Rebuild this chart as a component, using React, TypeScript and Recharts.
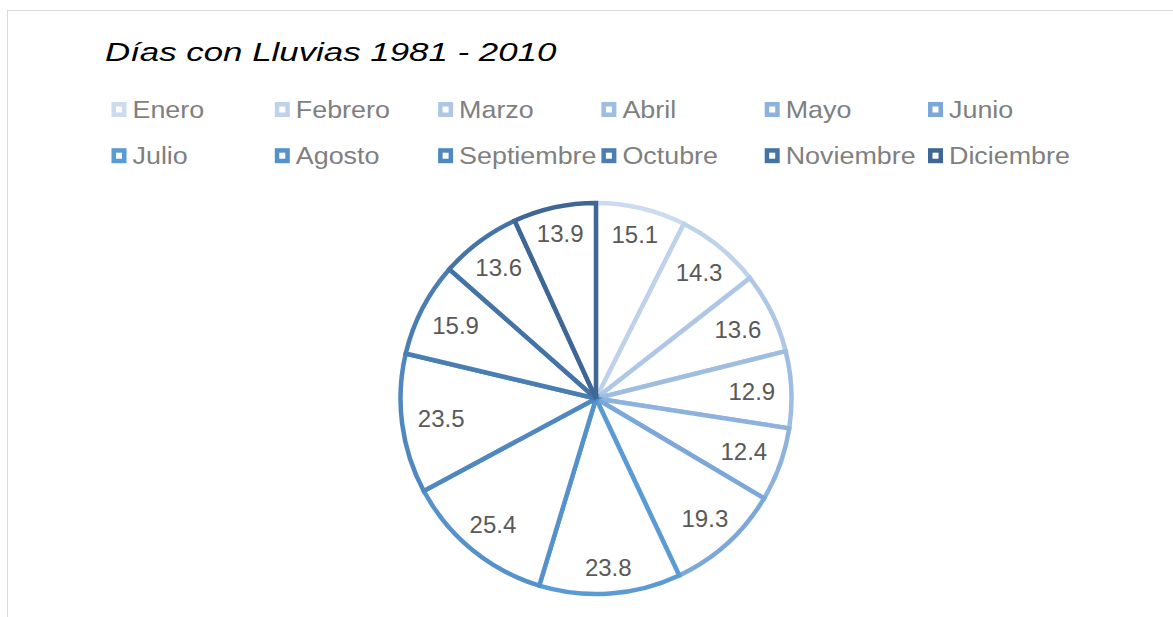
import React from 'react';
import { PieChart, Pie, Cell, Legend } from 'recharts';

const MONTHS = ['Enero', 'Febrero', 'Marzo', 'Abril', 'Mayo', 'Junio', 'Julio', 'Agosto', 'Septiembre', 'Octubre', 'Noviembre', 'Diciembre'];
const RAIN_DAYS = [15.1, 14.3, 13.6, 12.9, 12.4, 19.3, 23.8, 25.4, 23.5, 15.9, 13.6, 13.9];
const COLORS = ['#ccdbef', '#bed2ea', '#aec7e6', '#9ebde1', '#8db2dd', '#7ba7d9', '#5b9bd5', '#5592cb', '#4f88bf', '#4a7eb3', '#4473a5', '#3e6796'];
const TITLE = 'Días con Lluvias 1981 - 2010';

const data = MONTHS.map((m, i) => ({ name: m, value: RAIN_DAYS[i] }));

const FONT = '"Liberation Sans", Arial, sans-serif';
const RAD = Math.PI / 180;

const renderLabel = (props: any) => {
  const { cx, cy, midAngle, outerRadius, value } = props;
  const dx = Math.cos(-midAngle * RAD);
  const dy = Math.sin(-midAngle * RAD);
  const w = 45, h = 18;
  const ext = Math.sqrt((dx * w / 2) ** 2 + (dy * h / 2) ** 2);
  const r = outerRadius - 17 - ext;
  return (
    <text x={cx + r * dx} y={cy + r * dy} textAnchor="middle" dominantBaseline="central"
      fill="#595959" fontSize={24} fontFamily={FONT}>
      {value.toFixed(1)}
    </text>
  );
};

const renderLegend = () => (
  <svg width={1000} height={70} style={{ display: 'block', overflow: 'visible' }}>
    {MONTHS.map((m, i) => {
      const col = i % 6;
      const row = Math.floor(i / 6);
      const x = col * 163.3;
      const y = row * 46.2;
      return (
        <g key={m}>
          <rect x={x + 1.75} y={y + 1.25} width={10.5} height={10.5} fill="#fff" stroke={COLORS[i]} strokeWidth={4.5} />
          <text transform={`translate(${x + 20.5},${y + 15}) scale(1.12,1)`} fill="#7f7f7f" fontSize={24} fontFamily={FONT}>{m}</text>
        </g>
      );
    })}
  </svg>
);

export default function App() {
  return (
    <div style={{ position: 'fixed', left: 7, top: 10, width: 1166, height: 607, boxSizing: 'border-box', borderTop: '1px solid #d9d9d9', borderLeft: '1px solid #d9d9d9', background: '#fff', overflow: 'hidden' }}>
      <div style={{ position: 'absolute', left: 97, top: 28, fontFamily: FONT, fontStyle: 'italic', fontSize: 26, lineHeight: '26px', color: '#000', whiteSpace: 'nowrap', zIndex: 2, transform: 'scaleX(1.34)', transformOrigin: '0 0' }}>
        {TITLE}
      </div>
      <PieChart width={1165} height={606} margin={{ top: 0, right: 0, bottom: 0, left: 0 }}>
        <Pie data={data} dataKey="value" nameKey="name" cx={588} cy={387.5} outerRadius={195.5}
          startAngle={90} endAngle={-270} isAnimationActive={false} label={renderLabel} labelLine={false}>
          {data.map((d, i) => (
            <Cell key={d.name} fill="#ffffff" stroke={COLORS[i]} strokeWidth={4.5} />
          ))}
        </Pie>
        <Legend layout="horizontal" verticalAlign="middle" align="center" content={renderLegend}
          wrapperStyle={{ left: 103.5, top: 91.5, width: 1000, height: 70 }} />
      </PieChart>
    </div>
  );
}
